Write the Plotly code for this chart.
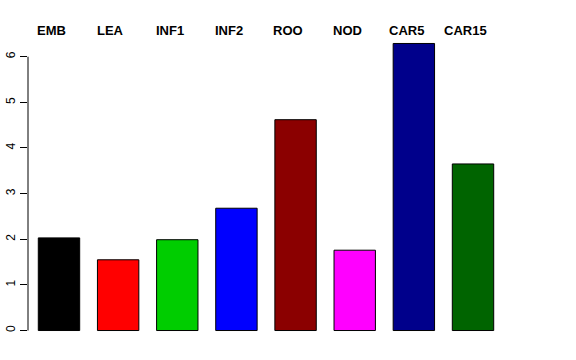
import plotly.graph_objects as go

categories = ["EMB", "LEA", "INF1", "INF2", "ROO", "NOD", "CAR5", "CAR15"]
values = [2.03, 1.55, 1.99, 2.68, 4.62, 1.76, 6.29, 3.65]
colors = ["#000000", "#FF0000", "#00CD00", "#0000FF", "#8B0000", "#FF00FF", "#00008B", "#006400"]
y_ticks = [0, 1, 2, 3, 4, 5, 6]

fig = go.Figure()
fig.add_trace(go.Bar(
    x=categories, y=values,
    marker=dict(color=colors, line=dict(color="#000000", width=1)),
    width=0.70,
))

for c in categories:
    fig.add_annotation(
        x=c, y=1, xref="x", yref="paper", text="<b>%s</b>" % c,
        showarrow=False, xanchor="center", yanchor="middle",
        xshift=-7.5, yshift=2,
        font=dict(family="Liberation Sans, Arial, sans-serif", size=13, color="#000000"),
    )

fig.add_shape(type="line", xref="paper", yref="y", x0=0, x1=0, y0=y_ticks[0], y1=y_ticks[-1],
              line=dict(color="#000000", width=1))

fig.update_layout(
    width=576, height=360,
    margin=dict(l=28, r=72, t=31.5, b=17.5),
    paper_bgcolor="#FFFFFF", plot_bgcolor="#FFFFFF",
    showlegend=False,
    font=dict(family="Liberation Sans, Arial, sans-serif", size=12, color="#000000"),
    xaxis=dict(range=[-0.524, 7.524], showticklabels=False, showgrid=False, zeroline=False,
               showline=False, ticks="", automargin=False),
    yaxis=dict(range=[-0.2516, 6.5416], tickvals=y_ticks, ticks="outside", ticklen=7,
               tickcolor="#000000", tickwidth=1, tickangle=-90, showgrid=False, zeroline=False,
               showline=False, tickfont=dict(size=12), automargin=False),
)

fig.write_html("out.html", config={"displayModeBar": False},
               post_script="document.body.style.margin='0';document.body.style.overflow='hidden';")
